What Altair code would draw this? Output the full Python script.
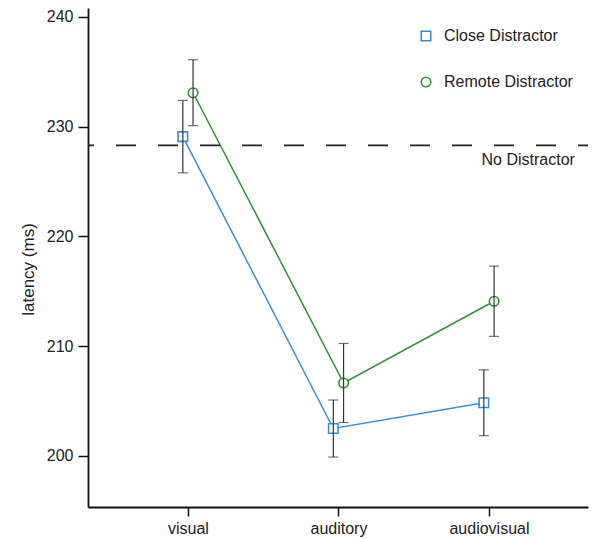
import json
import altair as alt
import pandas as pd

# ---- data ----
categories = ["visual", "auditory", "audiovisual"]
series_names = ["Close Distractor", "Remote Distractor"]
close_mean = [229.1, 202.5, 204.85]
close_err = [3.3, 2.6, 3.0]
remote_mean = [233.1, 206.65, 214.1]
remote_err = [3.0, 3.6, 3.2]
no_distractor = 228.3
y_ticks = [200, 210, 220, 230, 240]

colors = ["#3a8fd3", "#2f9135"]
shapes = ["square", "circle"]
shift = 0.034  # horizontal dodge between series (in category units)

rows = []
for s, (name, means, errs) in enumerate(
        [(series_names[0], close_mean, close_err), (series_names[1], remote_mean, remote_err)]):
    for i, cat in enumerate(categories):
        rows.append({
            "series": name,
            "category": cat,
            "pos": i + (-shift if s == 0 else shift),
            "mean": means[i],
            "lo": means[i] - errs[i],
            "hi": means[i] + errs[i],
        })
df = pd.DataFrame(rows)

FONT = "Liberation Sans"
xscale = alt.Scale(domain=[-0.664, 2.658], nice=False, zero=False)
yscale = alt.Scale(domain=[195.35, 240.82], nice=False, zero=False)

label_expr = json.dumps(categories) + "[datum.value]"
x_axis = alt.Axis(values=[0, 1, 2], labelExpr=label_expr, title=None, tickSize=9,
                  labelPadding=4)
y_axis = alt.Axis(values=y_ticks, title="latency (ms)", tickSize=10, labelPadding=5,
                  titleX=-60, titleY=261, titleAngle=-90, titleAlign="center",
                  titleBaseline="middle")

legend = alt.Legend(title=None, orient="none", legendX=330, legendY=20,
                    labelFont=FONT, labelFontSize=16, labelColor="#222",
                    rowPadding=30, symbolSize=90, symbolStrokeWidth=1.6,
                    labelOffset=10, symbolFillColor="white")
color = alt.Color("series:N", scale=alt.Scale(domain=series_names, range=colors), legend=legend)
shape = alt.Shape("series:N", scale=alt.Scale(domain=series_names, range=shapes), legend=legend)

base = alt.Chart(df)

lines = base.mark_line(strokeWidth=1.5).encode(
    x=alt.X("pos:Q", scale=xscale, axis=x_axis),
    y=alt.Y("mean:Q", scale=yscale, axis=y_axis),
    color=color,
    detail="series:N",
)

points = base.mark_point(filled=False, fill="white", fillOpacity=1, size=90,
                         strokeWidth=1.6, opacity=1).encode(
    x=alt.X("pos:Q", scale=xscale, axis=x_axis),
    y=alt.Y("mean:Q", scale=yscale, axis=y_axis),
    color=color,
    shape=shape,
)

err_rule = base.mark_rule(color="#333", strokeWidth=1.2).encode(
    x=alt.X("pos:Q", scale=xscale, axis=x_axis),
    y=alt.Y("lo:Q", scale=yscale, axis=y_axis),
    y2="hi:Q",
)
cap_lo = base.mark_tick(color="#333", orient="horizontal", size=10, thickness=1.2).encode(
    x=alt.X("pos:Q", scale=xscale, axis=x_axis),
    y=alt.Y("lo:Q", scale=yscale, axis=y_axis),
)
cap_hi = base.mark_tick(color="#333", orient="horizontal", size=10, thickness=1.2).encode(
    x=alt.X("pos:Q", scale=xscale, axis=x_axis),
    y=alt.Y("hi:Q", scale=yscale, axis=y_axis),
)

ref = pd.DataFrame({"y": [no_distractor], "label": ["No Distractor"], "xpos": [2.571]})
ref_rule = alt.Chart(ref).mark_rule(color="#222", strokeWidth=1.8, strokeDash=[20, 22],
                                    strokeDashOffset=10).encode(
    y=alt.Y("y:Q", scale=yscale, axis=y_axis),
)
ref_text = alt.Chart(ref).mark_text(align="right", baseline="top", dy=7, font=FONT,
                                    fontSize=16, color="#222").encode(
    x=alt.X("xpos:Q", scale=xscale, axis=x_axis),
    y=alt.Y("y:Q", scale=yscale, axis=y_axis),
    text="label:N",
)

chart = alt.layer(lines, ref_rule, ref_text, points, err_rule, cap_lo, cap_hi).properties(
    width=500, height=499,
    autosize=alt.AutoSizeParams(type="none"),
    padding={"left": 88, "top": 8, "right": 4, "bottom": 32},
).configure_view(stroke=None).configure_axis(
    grid=False, labelFont=FONT, labelFontSize=16, labelColor="#222",
    titleFont=FONT, titleFontSize=17, titleFontWeight="normal", titleColor="#222",
    domainWidth=1.8, tickWidth=1.5, domainColor="#111", tickColor="#111",
)

chart.save("out.html", embed_options={"renderer": "svg", "actions": False})
